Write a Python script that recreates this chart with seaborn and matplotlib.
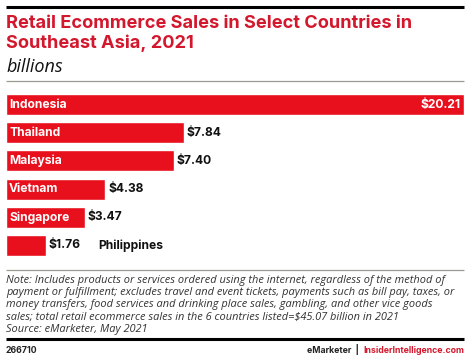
import matplotlib
matplotlib.use("Agg")
import matplotlib.pyplot as plt
import seaborn as sns
import pandas as pd
from matplotlib.lines import Line2D

countries = ["Indonesia", "Thailand", "Malaysia", "Vietnam", "Singapore", "Philippines"]
sales = [20.21, 7.84, 7.40, 4.38, 3.47, 1.76]
value_labels = ["$20.21", "$7.84", "$7.40", "$4.38", "$3.47", "$1.76"]

title = "Retail Ecommerce Sales in Select Countries in\nSoutheast Asia, 2021"
subtitle = "billions"
note = ("Note: Includes products or services ordered using the internet, regardless of the method of\n"
        "payment or fulfillment; excludes travel and event tickets, payments such as bill pay, taxes, or\n"
        "money transfers, food services and drinking place sales, gambling, and other vice goods\n"
        "sales; total retail ecommerce sales in the 6 countries listed=$45.07 billion in 2021\n"
        "Source: eMarketer, May 2021")
chart_id = "266710"

sns.set_theme(style="white")
plt.rcParams["font.family"] = ["Inter", "DejaVu Sans"]

W, H = 470, 359
fig = plt.figure(figsize=(W / 100, H / 100), dpi=100)

def fx(px):
    return px / W

def fy(py):
    return 1 - py / H

RED_BAR = "#e8101c"
RED_TITLE = "#d3172c"
ITALIC = ["Open Sans", "DejaVu Sans"]

# bar axes
left, right = 6, 464
top, bottom = 94, 256
ax = fig.add_axes([fx(left), fy(bottom), fx(right - left), (bottom - top) / H])
df = pd.DataFrame({"country": countries, "sales": sales})
sns.barplot(data=df, x="sales", y="country", color=RED_BAR, saturation=1,
            width=0.75, ax=ax)
ax.set_xlim(0, max(sales))
ax.set_ylim(len(countries) - 0.625, -0.375)
ax.axis("off")

xmax = max(sales)
px_per_unit = (right - left) / xmax
fs = 8.7
for i, (c, v, lab) in enumerate(zip(countries, sales, value_labels)):
    if i == 0:
        ax.text(3 / px_per_unit, i, c, color="white", fontweight="bold",
                fontsize=fs, va="center", ha="left")
        ax.text(v - 3 / px_per_unit, i, lab, color="white", fontweight="bold",
                fontsize=fs, va="center", ha="right")
    elif c == "Philippines":
        ax.text(v + 3 / px_per_unit, i, lab, color="#111111", fontweight="bold",
                fontsize=fs, va="center", ha="left")
        ax.text((98 - left) / px_per_unit, i, c, color="#111111", fontweight="bold",
                fontsize=fs, va="center", ha="left")
    else:
        ax.text(3 / px_per_unit, i, c, color="white", fontweight="bold",
                fontsize=fs, va="center", ha="left")
        ax.text(v + 3 / px_per_unit, i, lab, color="#111111", fontweight="bold",
                fontsize=fs, va="center", ha="left")

# lines
def hline(py, color, lw):
    fig.add_artist(Line2D([fx(6), fx(464)], [fy(py), fy(py)], color=color,
                          linewidth=lw, transform=fig.transFigure, solid_capstyle="butt"))

hline(7, "#000000", 2.2)
hline(81, "#9a9a92", 0.9)
hline(270, "#9a9a92", 0.9)
hline(339, "#000000", 2.2)

fig.text(fx(6), fy(33.5), title, color=RED_TITLE, fontweight="bold", fontsize=13.1,
         ha="left", va="center", linespacing=1.12)
fig.text(fx(6), fy(67), subtitle, color="#111111", fontstyle="italic", fontsize=13,
         ha="left", va="center", family=ITALIC)

fig.text(fx(6), fy(305), note, color="#333333", fontstyle="italic", fontsize=7.95,
         ha="left", va="center", linespacing=1.17, family=ITALIC)

fig.text(fx(6), fy(353), chart_id, color="#222222", fontweight="bold", fontsize=6.3,
         ha="left", va="baseline")
t1 = fig.text(fx(464), fy(353), "InsiderIntelligence.com", color=RED_TITLE,
              fontsize=6.3, ha="right", va="baseline", fontweight="bold")
fig.canvas.draw()
bb = t1.get_window_extent()
t2 = fig.text((bb.x0 - 4) / W, fy(353), "eMarketer  |", color="#222222",
              fontsize=6.3, ha="right", va="baseline", fontweight="bold")

fig.savefig("out.png", dpi=100)
